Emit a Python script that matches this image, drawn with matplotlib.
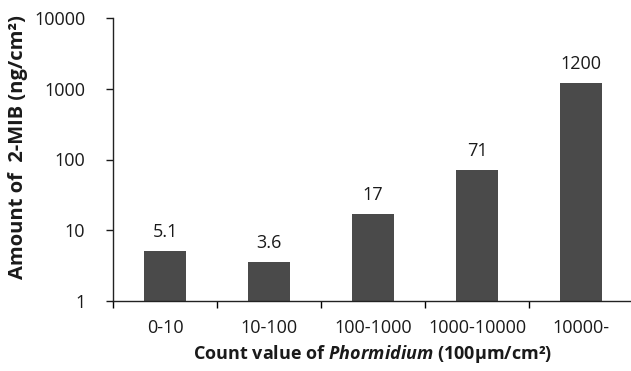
import matplotlib
matplotlib.use("Agg")
import matplotlib.pyplot as plt
import numpy as np

categories = ["0-10", "10-100", "100-1000", "1000-10000", "10000-"]
values = [5.1, 3.6, 17, 71, 1200]
value_labels = ["5.1", "3.6", "17", "71", "1200"]
yticks = [1, 10, 100, 1000, 10000]
ytick_labels = ["1", "10", "100", "1000", "10000"]

FONT = "Open Sans"
plt.rcParams['font.family'] = [FONT, 'DejaVu Sans']
plt.rcParams['mathtext.fontset'] = 'custom'
plt.rcParams['mathtext.rm'] = FONT
plt.rcParams['mathtext.bf'] = f'{FONT}:bold'
plt.rcParams['mathtext.it'] = f'{FONT}:italic'
plt.rcParams['mathtext.bfit'] = f'{FONT}:italic:bold'

TXT = "#1a1a1a"
fig = plt.figure(figsize=(6.31, 3.71), dpi=100)
W, H = 631, 371
left, right, top, bottom = 113, 633, 18, 301
ax = fig.add_axes([left / W, 1 - bottom / H, (right - left) / W, (bottom - top) / H])

x = np.arange(len(categories))
ax.bar(x, values, width=0.4, color="#4a4a4a", bottom=0)
ax.set_yscale("log")
ax.set_ylim(1, 10000)
ax.set_xlim(-0.5, len(categories) - 0.5)

ax.set_yticks(yticks)
ax.set_yticklabels(ytick_labels)
ax.yaxis.set_minor_locator(matplotlib.ticker.NullLocator())
ax.set_xticks(x)
ax.set_xticklabels(categories)
ax.tick_params(axis='x', length=0, pad=13, labelsize=13, colors=TXT)
ax.set_xticks(np.arange(len(categories) + 1) - 0.5, minor=True)
ax.tick_params(axis='x', which='minor', length=5, width=1, direction='out')
ax.tick_params(axis='y', length=5, width=1, direction='out', labelsize=13, pad=15, colors=TXT)

for s in ["top", "right"]:
    ax.spines[s].set_visible(False)
for s in ["left", "bottom"]:
    ax.spines[s].set_linewidth(1)
    ax.spines[s].set_color("#222222")

for xi, v, lab in zip(x, values, value_labels):
    ax.annotate(lab, (xi, v), xytext=(0, 7), textcoords="offset points",
                ha="center", va="bottom", fontsize=13, color=TXT)

ax.set_ylabel("Amount of  2-MIB (ng/cm²)", fontsize=14.5, fontweight="bold", labelpad=4, color=TXT)
ax.yaxis.label.set_y(0.545)
ax.set_xlabel(r"Count value of $\mathbfit{Phormidium}$ (100μm/cm²)", fontsize=13,
              fontweight="bold", labelpad=4, color=TXT)

fig.savefig("out.png", dpi=100)
